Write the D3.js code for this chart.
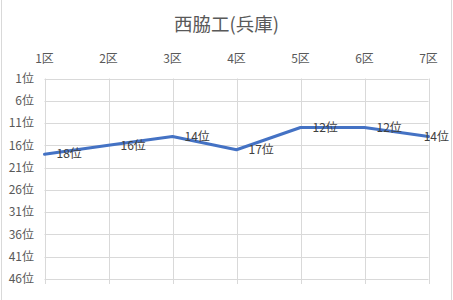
<!DOCTYPE html>
<html>
<head>
<meta charset="utf-8">
<script src="https://cdn.jsdelivr.net/npm/d3@7"></script>
<style>
  html, body { margin: 0; padding: 0; background: #fff; }
  svg { display: block; font-family: "Noto Sans CJK JP", "Noto Sans", sans-serif; }
</style>
</head>
<body>
<svg id="chart" width="453" height="300"></svg>
<script>
// Section names and the team's rank after each section
const sections = ["1区", "2区", "3区", "4区", "5区", "6区", "7区"];
const ranks = [18, 16, 14, 17, 12, 12, 14];
const rankTicks = [1, 6, 11, 16, 21, 26, 31, 36, 41, 46];
const title = "西脇工(兵庫)";

const W = 453, H = 300;
const plot = { left: 44.5, right: 428.5, top: 78.5, bottom: 279 };

const svg = d3.select("#chart");

// Chart frame edges
svg.append("line").attr("x1", 1.5).attr("x2", 1.5).attr("y1", 0).attr("y2", H)
  .attr("stroke", "#d9d9d9");
svg.append("line").attr("x1", W - 1.5).attr("x2", W - 1.5).attr("y1", 0).attr("y2", H)
  .attr("stroke", "#d9d9d9");

const x = d3.scalePoint().domain(sections).range([plot.left, plot.right]);
const y = d3.scaleLinear().domain([1, 46]).range([plot.top, plot.bottom]);

// Horizontal gridlines
svg.append("g").selectAll("line").data(rankTicks).join("line")
  .attr("x1", plot.left).attr("x2", plot.right)
  .attr("y1", d => Math.round(y(d)) + 0.5).attr("y2", d => Math.round(y(d)) + 0.5)
  .attr("stroke", "#d9d9d9").attr("stroke-width", 1);

// Vertical gridlines, running past the bottom as tick marks
svg.append("g").selectAll("line").data(sections).join("line")
  .attr("x1", d => Math.round(x(d)) + 0.5).attr("x2", d => Math.round(x(d)) + 0.5)
  .attr("y1", plot.top).attr("y2", plot.bottom + 5)
  .attr("stroke", "#d9d9d9").attr("stroke-width", 1);

// Rank axis labels
svg.append("g").selectAll("text").data(rankTicks).join("text")
  .attr("x", 34).attr("y", d => y(d))
  .attr("dy", "0.35em")
  .attr("text-anchor", "end")
  .attr("font-size", 12).attr("fill", "#595959")
  .text(d => d + "位");

// Section labels along the top
svg.append("g").selectAll("text").data(sections).join("text")
  .attr("x", d => x(d)).attr("y", 59)
  .attr("dy", "0.35em")
  .attr("text-anchor", "middle")
  .attr("font-size", 12).attr("fill", "#595959")
  .text(d => d);

// Title
svg.append("text")
  .attr("x", 226.5).attr("y", 25)
  .attr("dy", "0.35em")
  .attr("text-anchor", "middle")
  .attr("font-size", 18.5).attr("fill", "#595959")
  .text(title);

// Rank line
const pts = sections.map((s, i) => ({ s, r: ranks[i] }));
svg.append("path")
  .datum(pts)
  .attr("fill", "none")
  .attr("stroke", "#4472c4")
  .attr("stroke-width", 3)
  .attr("stroke-linejoin", "round")
  .attr("stroke-linecap", "round")
  .attr("d", d3.line().x(d => x(d.s)).y(d => y(d.r)));

// Value labels to the right of each point, kept inside the chart
const labels = svg.append("g").selectAll("text").data(pts).join("text")
  .attr("y", d => y(d.r))
  .attr("dy", "0.35em")
  .attr("font-size", 12).attr("fill", "#404040")
  .text(d => d.r + "位");
labels.each(function (d) {
  const w = this.getComputedTextLength();
  const lx = Math.min(x(d.s) + 12, W - 4 - w);
  d3.select(this).attr("x", lx);
});
</script>
</body>
</html>
